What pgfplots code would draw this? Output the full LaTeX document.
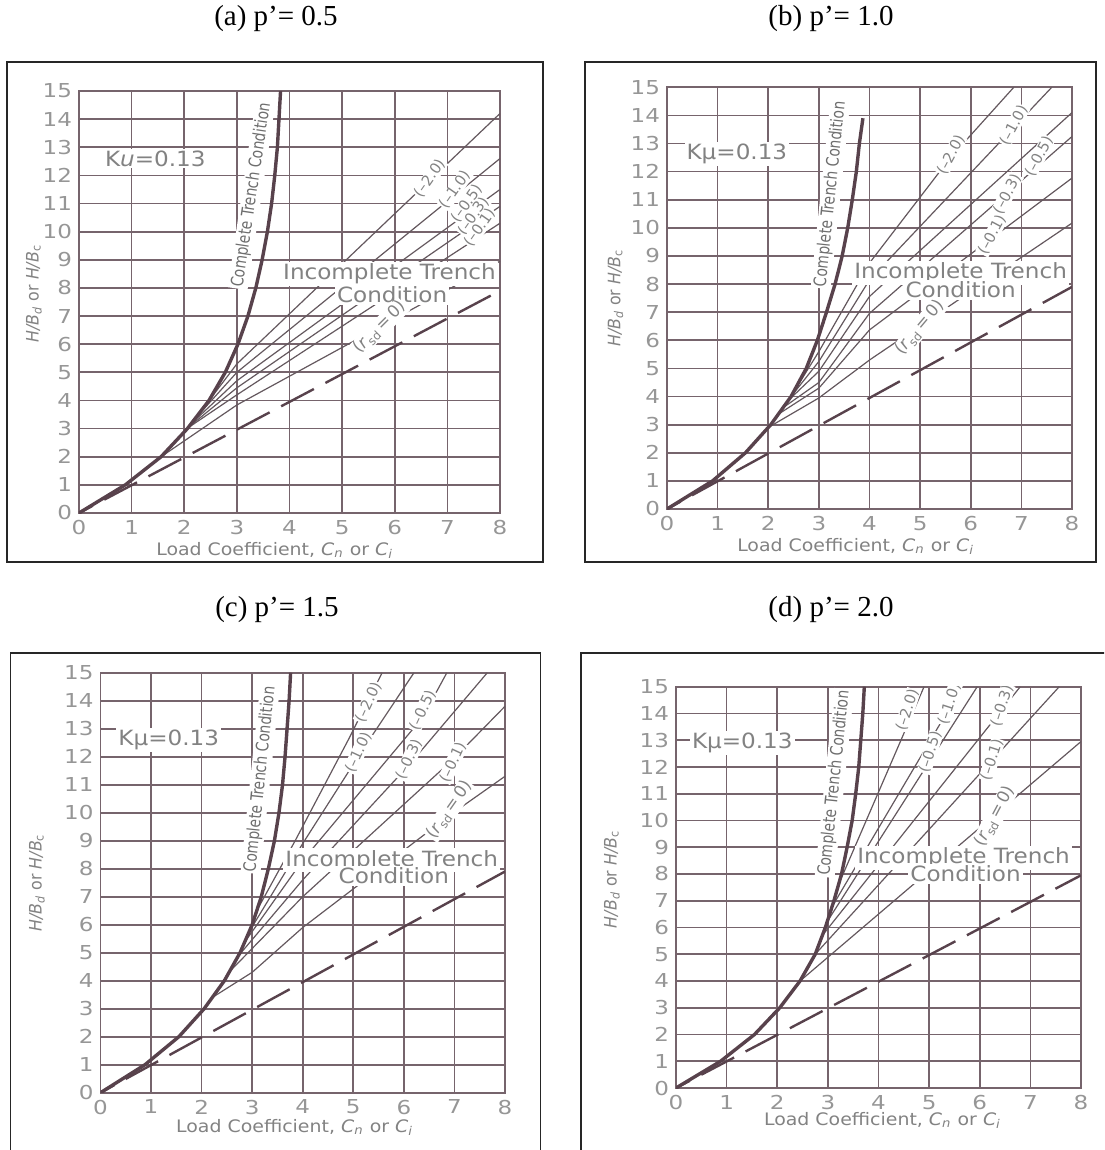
\documentclass[border=0pt]{standalone}
\usepackage{fontspec}
\setmainfont{Liberation Serif}
\newfontfamily\chart{DejaVu Sans}
\usepackage{graphicx}
\usepackage{pgfplots}
\pgfplotsset{compat=1.18}

\definecolor{gridc}{RGB}{118,100,108}
\definecolor{curvec}{RGB}{88,66,76}
\definecolor{fanc}{RGB}{100,88,94}
\definecolor{textc}{RGB}{130,130,130}
\definecolor{tickc}{RGB}{150,150,150}

\newcommand\tickf{\chart\fontsize{9.6}{10}\selectfont}
\newcommand\labelf{\chart\fontsize{8.6}{10}\selectfont}
\newcommand\fanf{\chart\fontsize{7.4}{8}\selectfont}
\newcommand\rsdf{\chart\fontsize{8.4}{9}\selectfont}
\newcommand\bigf{\chart\fontsize{10.5}{12}\selectfont}
\newcommand\ctf{\chart\fontsize{8.6}{9}\selectfont}
\newcommand\titf{\fontsize{14.5}{17}\selectfont}
\newcommand\wide[1]{\scalebox{1.1}[1]{#1}}
\newcommand\tw[1]{\scalebox{1.2}[1]{#1}}
\newcommand\narrow[1]{\scalebox{0.8}[1]{#1}}

\pgfplotsset{
  trench/.style={
    scale only axis, anchor=south west,
    xmin=0, xmax=8, ymin=0, ymax=15,
    xtick={0,...,8}, ytick={0,...,15},
    xticklabels={\tw{0},\tw{1},\tw{2},\tw{3},\tw{4},\tw{5},\tw{6},\tw{7},\tw{8}},
    yticklabels={\tw{0},\tw{1},\tw{2},\tw{3},\tw{4},\tw{5},\tw{6},\tw{7},
                 \tw{8},\tw{9},\tw{10},\tw{11},\tw{12},\tw{13},\tw{14},\tw{15}},
    grid=major, grid style={gridc, line width=0.85pt},
    axis line style={gridc, line width=0.85pt},
    major tick length=0pt,
    tick label style={font=\tickf, text=tickc},
    label style={font=\labelf, text=textc},
    xlabel={\wide{Load Coefficient, \textit{C}\textsubscript{\textit{n}} or \textit{C}\textsubscript{\textit{i}}}},
    ylabel={\scalebox{0.92}[1]{\textit{H/B}\textsubscript{\textit{d}} or \textit{H/B}\textsubscript{c}}},
  },
  ct/.style={curvec, line width=1.7pt, no marks},
  fan/.style={fanc, line width=0.6pt, no marks},
  eq/.style={curvec, line width=1.2pt, no marks,
             dash pattern=on 18.5pt off 6.5pt, dash phase=10.7pt},
}
\tikzset{
  lab/.style={font=\fanf, text=textc, fill=white, inner sep=0.3pt},
  rlab/.style={font=\rsdf, text=textc, fill=white, inner sep=0.5pt},
  big/.style={font=\bigf, text=textc, fill=white, inner sep=1pt},
  ctc/.style={font=\ctf, text=textc!85!black, fill=white, inner sep=0.8pt},
}
\newcommand\rsd{(\textit{r}\textsubscript{sd}\,=\,0)}
\newcommand\ctlab{\narrow{Complete Trench Condition}}

\begin{document}
\begin{tikzpicture}
\useasboundingbox (0pt,0pt) rectangle (552pt,-575pt);
\clip (0pt,0pt) rectangle (552pt,-575pt);

% panel frames and titles
\draw[black!85, line width=0.8pt] (3.5pt,-31pt) rectangle (271.5pt,-281pt);
\draw[black!85, line width=0.8pt] (292.5pt,-31pt) rectangle (548pt,-281pt);
\draw[black!85, line width=0.8pt] (5.3pt,-326.5pt) rectangle (270.3pt,-590pt);
\draw[black!85, line width=0.8pt] (290.5pt,-326.5pt) rectangle (560pt,-590pt);
\node[font=\titf] at (138pt,-9.5pt) {(a) p’= 0.5};
\node[font=\titf] at (415.5pt,-9.5pt) {(b) p’= 1.0};
\node[font=\titf] at (138.5pt,-305pt) {(c) p’= 1.5};
\node[font=\titf] at (415.5pt,-305pt) {(d) p’= 2.0};

% ---------------- (a) p' = 0.5
\begin{axis}[trench, at={(39.5pt,-256.5pt)}, width=210.5pt, height=211pt,
  xlabel style={at={(axis description cs:0.465,0)}, anchor=center, yshift=-18.5pt},
  ylabel style={at={(axis description cs:-0.107,0.52)}, anchor=center}]
  \node[big] at (axis cs:1.45,12.6) {\wide{K\textit{u}=0.13}};
  \node[ctc, rotate=81.5] at (axis cs:3.28,11.3) {\ctlab};
  \addplot[fan] coordinates {(2.27,3.5) (3,5.3) (8,14.2)};
  \addplot[fan] coordinates {(2.18,3.3) (3,5.0) (8,12.6)};
  \addplot[fan] coordinates {(2.12,3.15) (3,4.7) (8,11.5)};
  \addplot[fan] coordinates {(2.08,3.05) (3,4.45) (8,10.9)};
  \addplot[fan] coordinates {(2.01,2.95) (3,4.2) (8,10.3)};
  \addplot[fan] coordinates {(1.56,2.0) (3,3.84) (8,8.95)};
  \node[big] at (axis cs:5.9,8.5) {\wide{Incomplete Trench}};
  \node[big] at (axis cs:5.95,7.75) {\wide{Condition}};
  \node[lab, rotate=55] at (axis cs:6.67,11.9) {(–2.0)};
  \node[lab, rotate=55] at (axis cs:7.15,11.5) {(–1.0)};
  \node[lab, rotate=55] at (axis cs:7.37,11.0) {(–0.5)};
  \node[lab, rotate=55] at (axis cs:7.5,10.55) {(–0.3)};
  \node[lab, rotate=55] at (axis cs:7.62,10.15) {(–0.1)};
  \node[rlab, rotate=45] at (axis cs:5.72,6.6) {\rsd};
  \addplot[ct] coordinates {(0,0) (0.88,1) (1.56,2) (2.06,3) (2.47,4) (2.78,5)
    (3.02,6) (3.21,7) (3.36,8) (3.48,9) (3.58,10) (3.66,11) (3.72,12)
    (3.77,13) (3.8,14) (3.83,15)};
  \addplot[eq] coordinates {(0,0) (8,7.9)};
\end{axis}

% ---------------- (b) p' = 1.0
\begin{axis}[trench, at={(333.5pt,-254.5pt)}, width=202.5pt, height=210.85pt,
  xlabel style={at={(axis description cs:0.466,0)}, anchor=center, yshift=-18.9pt},
  ylabel style={at={(axis description cs:-0.127,0.5)}, anchor=center}]
  \node[big] at (axis cs:1.38,12.63) {\wide{Kμ=0.13}};
  \node[ctc, rotate=84] at (axis cs:3.23,11.2) {\ctlab};
  \addplot[fan] coordinates {(2.48,4.1) (3,5.6) (4,8.75) (5.6,12.5) (6.85,15)};
  \addplot[fan] coordinates {(2.45,4.0) (3,5.25) (4,8.15) (7.6,15)};
  \addplot[fan] coordinates {(2.39,3.85) (3,4.9) (4,7.56) (8,14.1)};
  \addplot[fan] coordinates {(2.29,3.6) (3,4.5) (4,6.96) (8,13.25)};
  \addplot[fan] coordinates {(2.18,3.35) (3,4.3) (4,6.37) (8,11.77)};
  \addplot[fan] coordinates {(2.0,2.9) (3,3.95) (4,5.3) (8,10.17)};
  \node[big] at (axis cs:5.8,8.4) {\wide{Incomplete Trench}};
  \node[big] at (axis cs:5.8,7.8) {\wide{Condition}};
  \node[lab, rotate=62] at (axis cs:5.61,12.6) {(–2.0)};
  \node[lab, rotate=62] at (axis cs:6.85,13.65) {(–1.0)};
  \node[lab, rotate=62] at (axis cs:7.35,12.55) {(–0.5)};
  \node[lab, rotate=62] at (axis cs:6.72,11.2) {(–0.3)};
  \node[lab, rotate=62] at (axis cs:6.42,9.75) {(–0.1)};
  \node[rlab, rotate=50] at (axis cs:5.0,6.45) {\rsd};
  \addplot[ct] coordinates {(0,0) (0.9,1) (1.55,2) (2.05,3) (2.45,4) (2.75,5)
    (2.97,6) (3.15,7) (3.32,8) (3.46,9) (3.57,10) (3.66,11) (3.74,12)
    (3.8,13) (3.87,13.9)};
  \addplot[eq] coordinates {(0,0) (8,7.9)};
\end{axis}

% ---------------- (c) p' = 1.5
\begin{axis}[trench, at={(50.25pt,-546.35pt)}, width=202.25pt, height=210pt,
  xlabel style={at={(axis description cs:0.48,0)}, anchor=center, yshift=-17.6pt},
  ylabel style={at={(axis description cs:-0.157,0.5)}, anchor=center}]
  \node[big] at (axis cs:1.35,12.6) {\wide{Kμ=0.13}};
  \node[ctc, rotate=84] at (axis cs:3.16,11.2) {\ctlab};
  \addplot[fan] coordinates {(3.09,6.5) (3.85,9.0) (4.9,12.6) (5.57,15)};
  \addplot[fan] coordinates {(2.94,5.75) (4,8.9) (5.13,12.1) (6.2,15)};
  \addplot[fan] coordinates {(2.86,5.4) (4,8.3) (6.37,13.4) (6.85,15)};
  \addplot[fan] coordinates {(2.71,4.85) (4,7.6) (6.1,11.7) (7.65,15)};
  \addplot[fan] coordinates {(2.54,4.3) (4,7.0) (6.97,11.9) (8,13.8)};
  \addplot[fan] coordinates {(2.21,3.4) (3,4.3) (4,5.9) (6.9,9.9) (8,11.3)};
  \node[big] at (axis cs:5.76,8.3) {\wide{Incomplete Trench}};
  \node[big] at (axis cs:5.8,7.75) {\wide{Condition}};
  \node[lab, rotate=65] at (axis cs:5.3,13.95) {(–2.0)};
  \node[lab, rotate=65] at (axis cs:5.1,12.15) {(–1.0)};
  \node[lab, rotate=65] at (axis cs:6.37,13.65) {(–0.5)};
  \node[lab, rotate=65] at (axis cs:6.1,11.9) {(–0.3)};
  \node[lab, rotate=65] at (axis cs:6.97,11.8) {(–0.1)};
  \node[rlab, rotate=55] at (axis cs:6.9,10.1) {\rsd};
  \addplot[ct] coordinates {(0,0) (0.88,1) (1.55,2) (2.05,3) (2.45,4) (2.76,5)
    (3.0,6) (3.18,7) (3.32,8) (3.44,9) (3.53,10) (3.6,11) (3.65,12)
    (3.69,13) (3.73,14) (3.76,15)};
  \addplot[eq] coordinates {(0,0) (8,7.9)};
\end{axis}

% ---------------- (d) p' = 2.0
\begin{axis}[trench, at={(338pt,-544pt)}, width=202.5pt, height=200.65pt,
  xlabel style={at={(axis description cs:0.51,0)}, anchor=center, yshift=-16pt},
  ylabel style={at={(axis description cs:-0.158,0.52)}, anchor=center}]
  \node[big] at (axis cs:1.31,12.9) {\wide{Kμ=0.13}};
  \node[ctc, rotate=84] at (axis cs:3.13,11.4) {\ctlab};
  \addplot[fan] coordinates {(3.21,7.6) (4.9,15)};
  \addplot[fan] coordinates {(3.09,6.8) (5.65,15)};
  \addplot[fan] coordinates {(2.98,6.2) (5.95,15)};
  \addplot[fan] coordinates {(2.89,5.7) (6.8,15)};
  \addplot[fan] coordinates {(2.75,5.0) (7.57,15)};
  \addplot[fan] coordinates {(2.45,4.0) (8,12.95)};
  \node[big] at (axis cs:5.68,8.6) {\wide{Incomplete Trench}};
  \node[big] at (axis cs:5.72,8.0) {\wide{Condition}};
  \node[lab, rotate=72] at (axis cs:4.57,14.13) {(–2.0)};
  \node[lab, rotate=72] at (axis cs:5.4,14.35) {(–1.0)};
  \node[lab, rotate=72] at (axis cs:5.02,12.55) {(–0.5)};
  \node[lab, rotate=72] at (axis cs:6.44,14.3) {(–0.3)};
  \node[lab, rotate=72] at (axis cs:6.24,12.27) {(–0.1)};
  \node[rlab, rotate=62] at (axis cs:6.3,10.15) {\rsd};
  \addplot[ct] coordinates {(0,0) (0.88,1) (1.55,2) (2.05,3) (2.45,4) (2.75,5)
    (2.95,6) (3.12,7) (3.27,8) (3.38,9) (3.48,10) (3.55,11) (3.61,12)
    (3.65,13) (3.69,14) (3.72,15)};
  \addplot[eq] coordinates {(0,0) (8,7.95)};
\end{axis}
\end{tikzpicture}
\end{document}
